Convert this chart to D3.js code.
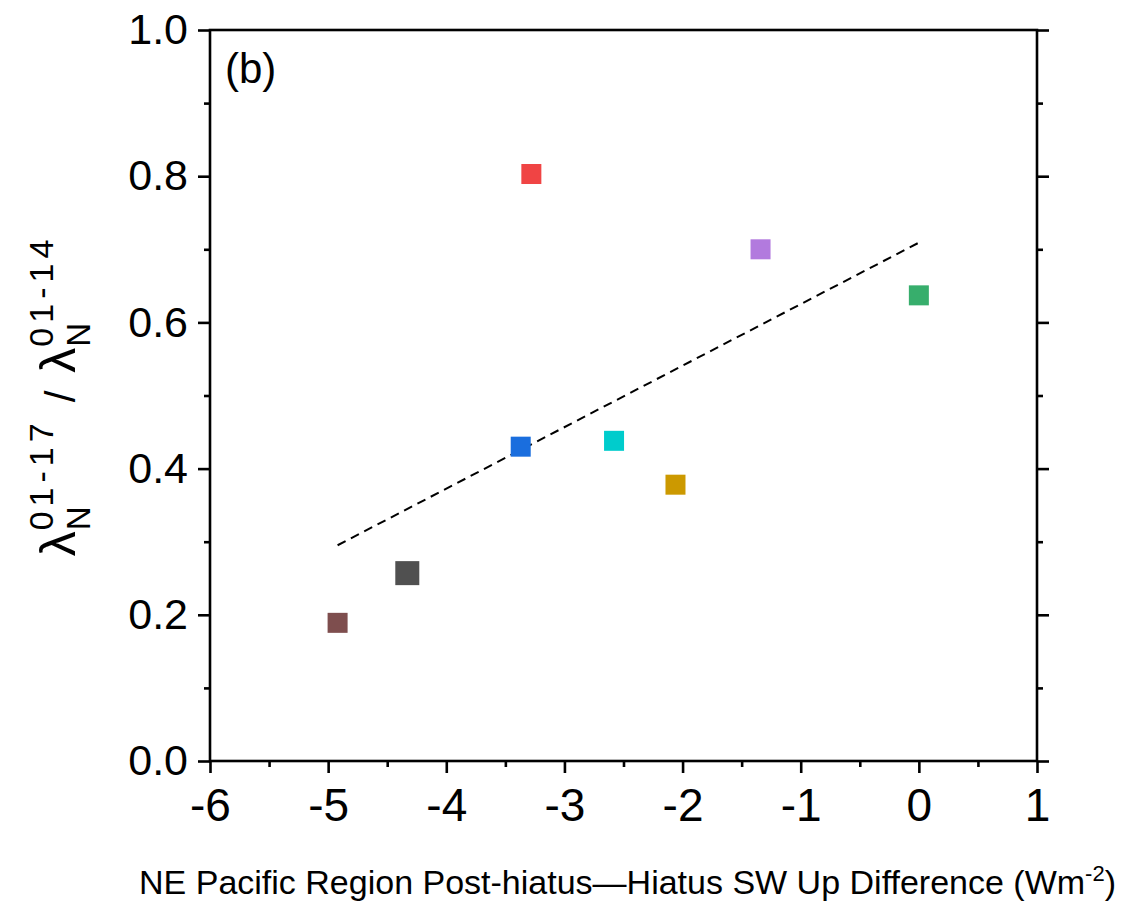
<!DOCTYPE html>
<html>
<head>
<meta charset="utf-8">
<script src="https://cdn.jsdelivr.net/npm/d3@7"></script>
<style>
  body { margin: 0; background: #fff; }
  svg { font-family: "Liberation Sans", Arial, sans-serif; }
</style>
</head>
<body>
<div id="chart"></div>
<script>
// Data
const xVals   = [-3.28, -3.37, -2.58, -2.06, -1.34, 0.0, -4.33, -4.92];
const yVals   = [0.803, 0.430, 0.438, 0.378, 0.700, 0.637, 0.257, 0.189];
const colors  = ['#f04444', '#1a6ede', '#00cccc', '#cc9900', '#b27ade', '#37ae6c', '#505050', '#7e4e4e'];
const bigPt   = [false, false, false, false, false, false, true, false];
const xTicks  = [-6, -5, -4, -3, -2, -1, 0, 1];
const yTicks  = [0, 0.2, 0.4, 0.6, 0.8, 1.0];
const xMinor  = [-5.5, -4.5, -3.5, -2.5, -1.5, -0.5, 0.5];
const yMinor  = [0.1, 0.3, 0.5, 0.7, 0.9];

// Layout
const width  = 1143;
const height = 905;
const pLeft = 210, pRight = 1037, pTop = 30, pBottom = 761;

const svg = d3.select('#chart')
  .append('svg')
    .attr('width', width)
    .attr('height', height);

const x = d3.scaleLinear().domain([-6, 1]).range([pLeft, pRight]);
const y = d3.scaleLinear().domain([0, 1]).range([pBottom, pTop]);

// Axes
const axisW = 2.6;

function styleAxis(g, fontSize) {
  g.select('.domain').remove();
  g.selectAll('line').attr('stroke', '#000').attr('stroke-width', axisW);
  g.selectAll('text').attr('fill', '#000').style('font-size', fontSize + 'px')
    .style('font-family', '"Liberation Sans", Arial, sans-serif');
}

// bottom
svg.append('g')
  .attr('transform', `translate(0,${pBottom})`)
  .call(d3.axisBottom(x).tickValues(xTicks).tickSize(12).tickSizeOuter(0)
    .tickPadding(15).tickFormat(d => String(d)))
  .call(g => styleAxis(g, 46));
svg.append('g')
  .attr('transform', `translate(0,${pBottom})`)
  .call(d3.axisBottom(x).tickValues(xMinor).tickSize(6).tickFormat(''))
  .call(g => styleAxis(g, 10));

// left
svg.append('g')
  .attr('transform', `translate(${pLeft},0)`)
  .call(d3.axisLeft(y).tickValues(yTicks).tickSize(12).tickSizeOuter(0)
    .tickPadding(10).tickFormat(d => d.toFixed(1)))
  .call(g => styleAxis(g, 43));
svg.append('g')
  .attr('transform', `translate(${pLeft},0)`)
  .call(d3.axisLeft(y).tickValues(yMinor).tickSize(6).tickFormat(''))
  .call(g => styleAxis(g, 10));

// right (ticks outward, no labels)
svg.append('g')
  .attr('transform', `translate(${pRight},0)`)
  .call(d3.axisRight(y).tickValues(yTicks).tickSize(12).tickFormat(''))
  .call(g => styleAxis(g, 10));
svg.append('g')
  .attr('transform', `translate(${pRight},0)`)
  .call(d3.axisRight(y).tickValues(yMinor).tickSize(6).tickFormat(''))
  .call(g => styleAxis(g, 10));

// frame
svg.append('rect')
  .attr('x', pLeft).attr('y', pTop)
  .attr('width', pRight - pLeft).attr('height', pBottom - pTop)
  .attr('fill', 'none')
  .attr('stroke', '#000')
  .attr('stroke-width', axisW);

// Linear fit (least squares)
const mx = d3.mean(xVals), my = d3.mean(yVals);
const slope = d3.sum(xVals, (v, i) => (v - mx) * (yVals[i] - my)) /
              d3.sum(xVals, v => (v - mx) * (v - mx));
const icpt = my - slope * mx;
const [fx0, fx1] = d3.extent(xVals);

svg.append('line')
  .attr('x1', x(fx0)).attr('y1', y(icpt + slope * fx0))
  .attr('x2', x(fx1)).attr('y2', y(icpt + slope * fx1))
  .attr('stroke', '#000')
  .attr('stroke-width', 2)
  .attr('stroke-dasharray', '9,6');

// Points
const pts = xVals.map((v, i) => ({ x: v, y: yVals[i], c: colors[i], s: bigPt[i] ? 24 : 20 }));
svg.append('g')
  .selectAll('rect')
  .data(pts)
  .join('rect')
    .attr('x', d => x(d.x) - d.s / 2)
    .attr('y', d => y(d.y) - d.s / 2)
    .attr('width', d => d.s)
    .attr('height', d => d.s)
    .attr('fill', d => d.c);

// Panel label
svg.append('text')
  .attr('x', 225).attr('y', 83)
  .style('font-size', '42px')
  .text('(b)');

// X axis title
svg.append('text')
  .attr('x', (pLeft + pRight) / 2 + 4)
  .attr('y', 894)
  .attr('text-anchor', 'middle')
  .style('font-size', '34px')
  .call(t => {
    t.append('tspan').text('NE Pacific Region Post-hiatus\u2014Hiatus SW Up Difference (Wm');
    t.append('tspan').attr('dy', -13).style('font-size', '22px').text('-2');
    t.append('tspan').attr('dy', 13).text(')');
  });

// Y axis title: λN^(01-17) / λN^(01-14)
const yl = svg.append('g');
let cx = 0;
function lambdaGroup(sup) {
  const l = yl.append('text').attr('x', cx).attr('y', 0).style('font-size', '50px').text('\u03bb');
  cx += l.node().getComputedTextLength() + 1;
  const sub = yl.append('text').attr('x', cx).attr('y', 15).style('font-size', '33px')
    .style('letter-spacing', '4px').text('N');
  const sp = yl.append('text').attr('x', cx).attr('y', -22).style('font-size', '34px')
    .style('letter-spacing', '5px').text(sup);
  cx += Math.max(sub.node().getComputedTextLength(), sp.node().getComputedTextLength());
}
lambdaGroup('01-17');
const sl = yl.append('text').attr('x', cx + 16).attr('y', 0).style('font-size', '42px').text('/');
cx += 16 + sl.node().getComputedTextLength() + 18;
lambdaGroup('01-14');
const total = cx;
yl.attr('transform', `translate(75,${(pTop + pBottom) / 2 + total / 2}) rotate(-90)`);
</script>
</body>
</html>
